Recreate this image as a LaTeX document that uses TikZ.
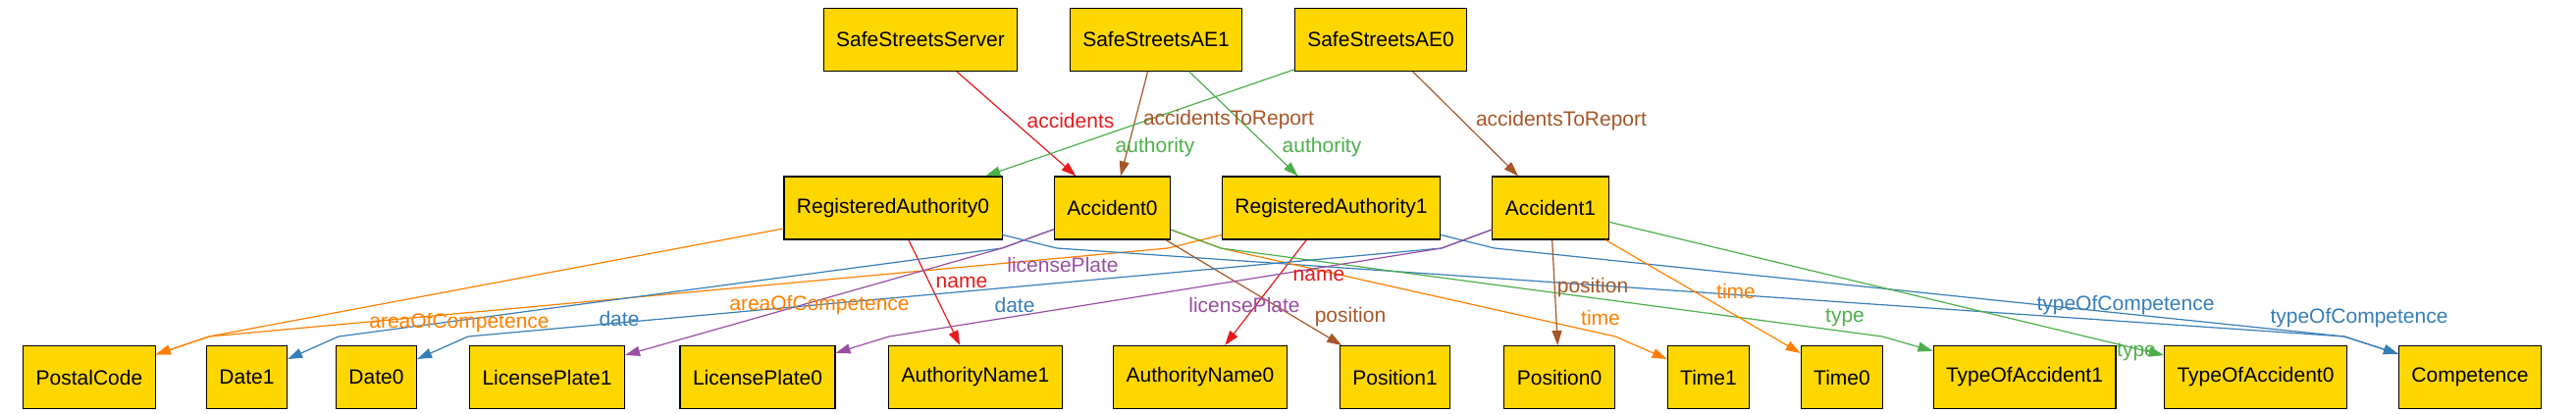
\documentclass[tikz,border=0pt]{standalone}
\usepackage{fontspec}
\setmainfont{Liberation Sans}
\usetikzlibrary{arrows.meta}
\definecolor{atomgold}{RGB}{255,215,0}
\definecolor{relred}{RGB}{228,26,28}
\definecolor{relblue}{RGB}{55,126,184}
\definecolor{relgreen}{RGB}{77,175,74}
\definecolor{relpurple}{RGB}{152,78,163}
\definecolor{relorange}{RGB}{255,127,0}
\definecolor{relbrown}{RGB}{166,86,40}
\tikzset{atom/.style={draw=black, line width=0.55pt, fill=atomgold, rectangle,
    minimum height=32pt, inner xsep=6.5pt, font=\fontsize{10.5}{12}\selectfont}}
\tikzset{rel/.style={#1, line width=0.6pt, -{Triangle[length=7.5pt,width=5pt]}}}
\tikzset{lbl/.style={text=#1, inner sep=0pt, font=\fontsize{10.5}{12}\selectfont}}

\begin{document}
\begin{tikzpicture}[x=0.5pt, y=-0.5pt]
  \useasboundingbox (0,0) rectangle (2625,422);
  % top row
  \node[atom] (SSS)  at (938,40.5)  {SafeStreetsServer};
  \node[atom] (SAE1) at (1178,40.5) {SafeStreetsAE1};
  \node[atom] (SAE0) at (1407,40.5) {SafeStreetsAE0};
  % middle row
  \node[atom] (RA0)  at (910,212)    {RegisteredAuthority0};
  \node[atom] (Acc0) at (1133.5,212) {Accident0};
  \node[atom] (RA1)  at (1356.5,212) {RegisteredAuthority1};
  \node[atom] (Acc1) at (1580,212)   {Accident1};
  % bottom row
  \node[atom] (Postal) at (91,384.5)   {PostalCode};
  \node[atom] (Date1)  at (251.5,384.5) {Date1};
  \node[atom] (Date0)  at (383.5,384.5) {Date0};
  \node[atom] (LP1)    at (557.5,384.5) {LicensePlate1};
  \node[atom] (LP0)    at (772,384.5)   {LicensePlate0};
  \node[atom] (AN1)    at (994,384.5)   {AuthorityName1};
  \node[atom] (AN0)    at (1223,384.5)  {AuthorityName0};
  \node[atom] (Pos1)   at (1421.5,384.5) {Position1};
  \node[atom] (Pos0)   at (1589,384.5)  {Position0};
  \node[atom] (Time1)  at (1741,384.5)  {Time1};
  \node[atom] (Time0)  at (1877,384.5)  {Time0};
  \node[atom] (TOA1)   at (2063,384.5)  {TypeOfAccident1};
  \node[atom] (TOA0)   at (2298.5,384.5) {TypeOfAccident0};
  \node[atom] (Comp)   at (2517,384.5)  {Competence};

  % bend points
  \coordinate (jPostal) at (213,343);
  \coordinate (jAcc0L)  at (1021,253);
  \coordinate (jAcc0R)  at (1244,253);
  \coordinate (jRA1L)   at (1190,253);
  \coordinate (jAcc1L)  at (1469,253);
  \coordinate (jRA0)    at (1077,253);
  \coordinate (jRA1)    at (1523,253);
  \coordinate (jComp)   at (2389,343);

  % top to middle
  \draw[rel=relred]   (SSS) -- (Acc0);
  \draw[rel=relbrown] (SAE1) -- (Acc0);
  \draw[rel=relgreen] (SAE1) -- (RA1);
  \draw[rel=relgreen] (SAE0) -- (RA0);
  \draw[rel=relbrown] (SAE0) -- (Acc1);

  % middle to bottom
  \draw[rel=relorange] (RA0) -- (jPostal) -- (Postal);
  \draw[rel=relorange] (RA1) -- (jRA1L) -- (jPostal) -- (Postal);
  \draw[rel=relred]    (RA0) -- (AN1);
  \draw[rel=relred]    (RA1) -- (AN0);
  \draw[rel=relblue]   (RA0) -- (jRA0) -- (jComp) -- (Comp);
  \draw[rel=relblue]   (RA1) -- (jRA1) -- (jComp) -- (Comp);
  \draw[rel=relblue]   (Acc0) -- (jAcc0L) -- (345,343) -- (Date1);
  \draw[rel=relpurple] (Acc0) -- (jAcc0L) -- (LP1);
  \draw[rel=relbrown]  (Acc0) -- (Pos1);
  \draw[rel=relorange] (Acc0) -- (jAcc0R) -- (1646,343) -- (Time1);
  \draw[rel=relgreen]  (Acc0) -- (jAcc0R) -- (1918,343) -- (TOA1);
  \draw[rel=relblue]   (Acc1) -- (jAcc1L) -- (477,343) -- (Date0);
  \draw[rel=relpurple] (Acc1) -- (jAcc1L) -- (906,343) -- (LP0);
  \draw[rel=relbrown]  (Acc1) -- (Pos0);
  \draw[rel=relorange] (Acc1) -- (Time0);
  \draw[rel=relgreen]  (Acc1) -- (TOA0);

  % labels
  \node[lbl=relred]    (lAccidents) at (1091,123) {accidents};
  \node[lbl=relbrown]  (lReport1)   at (1252,122) {accidentsToReport};
  \node[lbl=relgreen]  (lAuth0)     at (1177,150) {authority};
  \node[lbl=relgreen]  (lAuth1)     at (1347,150) {authority};
  \node[lbl=relbrown]  (lReport0)   at (1591,123) {accidentsToReport};
  \node[lbl=relorange] (lArea0)     at (468,329)  {areaOfCompetence};
  \node[lbl=relorange] (lArea1)     at (835,311)  {areaOfCompetence};
  \node[lbl=relred]    (lName0)     at (980,288)  {name};
  \node[lbl=relred]    (lName1)     at (1344,281) {name};
  \node[lbl=relpurple] (lPlate0)    at (1083,270) {licensePlate};
  \node[lbl=relpurple] (lPlate1)    at (1268,311) {licensePlate};
  \node[lbl=relblue]   (lDate1)     at (631,325)  {date};
  \node[lbl=relblue]   (lDate0)     at (1034,311) {date};
  \node[lbl=relbrown]  (lPos1)      at (1376,323) {position};
  \node[lbl=relbrown]  (lPos0)      at (1623,293) {position};
  \node[lbl=relorange] (lTime1)     at (1631,324) {time};
  \node[lbl=relorange] (lTime0)     at (1769,297) {time};
  \node[lbl=relgreen]  (lType1)     at (1880,324) {type};
  \node[lbl=relgreen]  (lType0)     at (2177,359) {type};
  \node[lbl=relblue]   (lComp1)     at (2166,311) {typeOfCompetence};
  \node[lbl=relblue]   (lComp0)     at (2404,324) {typeOfCompetence};
\end{tikzpicture}
\end{document}
